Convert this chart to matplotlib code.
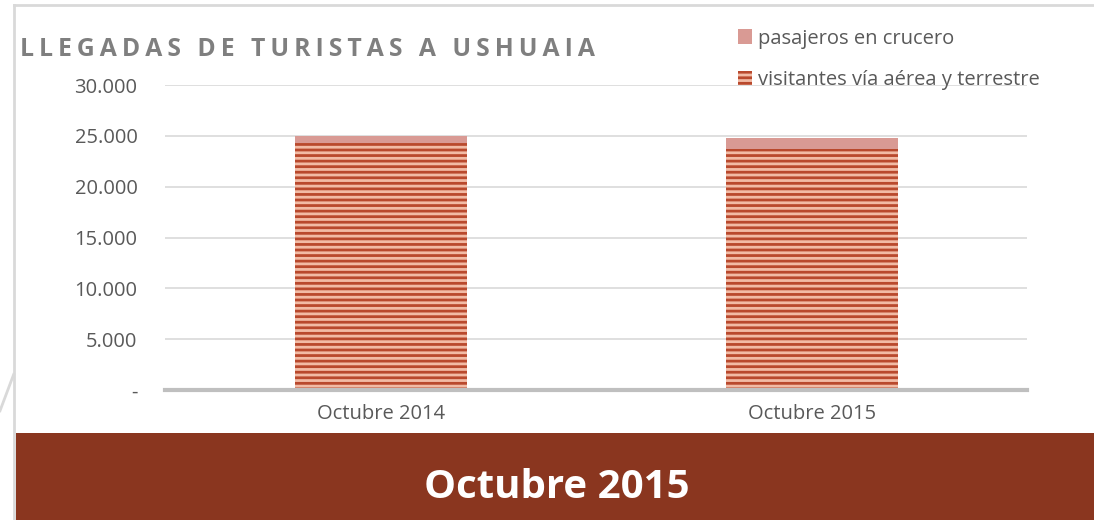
import numpy as np
import matplotlib.pyplot as plt
from matplotlib.patches import Rectangle, Patch
from matplotlib.lines import Line2D
from matplotlib.ticker import FuncFormatter

plt.rcParams['font.family'] = ['Open Sans', 'DejaVu Sans']
plt.rcParams['hatch.linewidth'] = 2.0

categories = ['Octubre 2014', 'Octubre 2015']
visitantes = [24300, 23700]
crucero = [700, 1080]
title = 'LLEGADAS DE TURISTAS A USHUAIA'
banner = 'Octubre 2015'

fig = plt.figure(figsize=(10.94, 5.2), dpi=100)
ax = fig.add_axes([0.151, 0.25, 0.788, 0.5865])

x = np.arange(len(categories))
ax.bar(x, visitantes, width=0.4, color='#B9492D', edgecolor='#F2BBA5',
       hatch='---', linewidth=0, label='visitantes vía aérea y terrestre')
ax.bar(x, crucero, bottom=visitantes, width=0.4, color='#D99A94',
       linewidth=0, label='pasajeros en crucero')

ax.set_xlim(-0.5, 1.5)
ax.set_ylim(0, 30000)
ax.set_yticks(range(0, 30001, 5000))
ax.yaxis.set_major_formatter(FuncFormatter(
    lambda v, p: '-' if v == 0 else f'{int(v):,}'.replace(',', '.')))
ax.set_xticks(x)
ax.set_xticklabels(categories)
ax.grid(axis='y', color='#D9D9D9', linewidth=1.2)
ax.set_axisbelow(True)
for s in ['top', 'right', 'left']:
    ax.spines[s].set_visible(False)
ax.spines['bottom'].set_color('#BFBFBF')
ax.spines['bottom'].set_linewidth(3)
ax.tick_params(length=0, labelsize=14.5, colors='#595959')
ax.tick_params(axis='y', pad=20)
ax.tick_params(axis='x', pad=10)

fig.text(0.018, 0.904, '\u2009'.join(title), fontsize=17.8, fontweight='bold',
         color='#7F7F7F', ha='left', va='center')

handles = [Patch(facecolor='#D99A94', label='pasajeros en crucero'),
           Patch(facecolor='#B9492D', edgecolor='#F2BBA5', hatch='---',
                 linewidth=0, label='visitantes vía aérea y terrestre')]
fig.legend(handles=handles, loc='upper left', bbox_to_anchor=(0.658, 0.98),
           frameon=False, fontsize=14.5, labelspacing=1.05, handlelength=0.7,
           handleheight=0.7, handletextpad=0.3, labelcolor='#595959')

# frame lines and banner
fig.add_artist(Line2D([0.0125, 0.0125], [0, 0.99], color='#D9D9D9', lw=2))
fig.add_artist(Line2D([0.0125, 1], [0.99, 0.99], color='#D9D9D9', lw=2))
fig.add_artist(Line2D([0, 0.0125], [0.21, 0.28], color='#D9D9D9', lw=2))
fig.patches.append(Rectangle((0.0146, 0), 0.9854, 0.167, transform=fig.transFigure,
                             facecolor='#8A361F', edgecolor='none', zorder=0))
fig.text(0.509, 0.062, banner, fontsize=29, fontweight='bold', color='white',
         ha='center', va='center')

fig.savefig('out.png', dpi=100)
